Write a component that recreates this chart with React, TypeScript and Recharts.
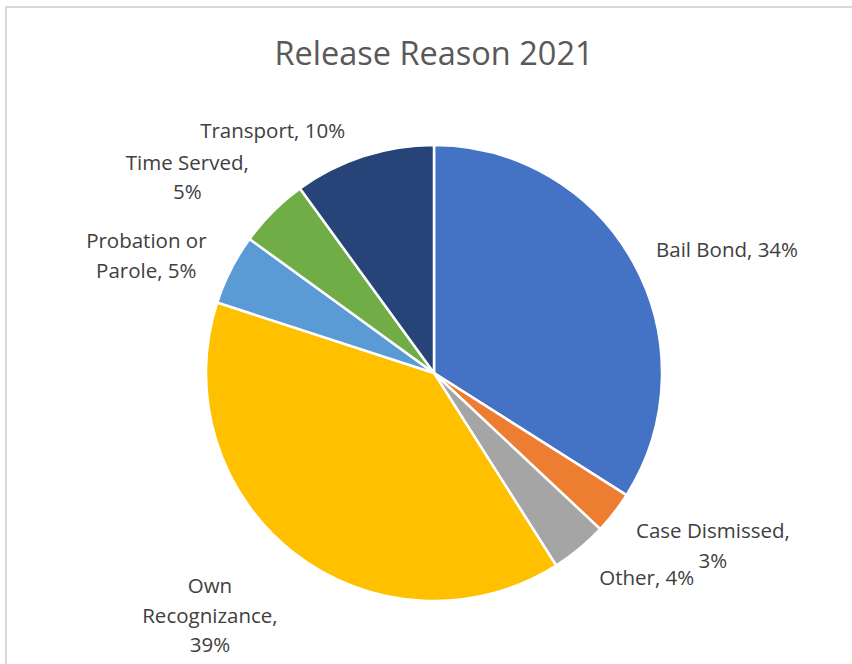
import { PieChart, Pie, Cell } from "recharts";

// release reasons, share of releases in 2021 (%)
const reasons = [
  "Bail Bond",
  "Case Dismissed",
  "Other",
  "Own Recognizance",
  "Probation or Parole",
  "Time Served",
  "Transport",
];
const shares = [34, 3, 4, 39, 5, 5, 10];

// how each data label wraps
const labelLines = [
  ["Bail Bond, 34%"],
  ["Case Dismissed,", "3%"],
  ["Other, 4%"],
  ["Own", "Recognizance,", "39%"],
  ["Probation or", "Parole, 5%"],
  ["Time Served,", "5%"],
  ["Transport, 10%"],
];

const COLORS = [
  "#4472c4",
  "#ed7d31",
  "#a5a5a5",
  "#ffc000",
  "#5b9bd5",
  "#70ad47",
  "#264478",
];

// best-fit nudges for the labels, px from the default anchor
const NUDGE: [number, number][] = [
  [17, 28],
  [30, -21],
  [12, -39],
  [-31, -7],
  [-7, 25],
  [-24, 26],
  [-64, 57],
];

const FONT = "'Open Sans', sans-serif";
const LINE_H = 29.5;
const RAD = Math.PI / 180;

const data = reasons.map((name, i) => ({ name, value: shares[i] }));

function renderLabel(props: any) {
  const { cx, cy, midAngle, outerRadius, index } = props;
  const r = outerRadius + 87;
  const x = cx + Math.cos(-midAngle * RAD) * r + NUDGE[index][0];
  const y = cy + Math.sin(-midAngle * RAD) * r + NUDGE[index][1];
  const lines = labelLines[index];
  const top = y - ((lines.length - 1) * LINE_H) / 2;
  return (
    <text
      key={`lbl-${index}`}
      x={x}
      y={top}
      textAnchor="middle"
      dominantBaseline="central"
      fill="#404040"
      fontSize={20.5}
      fontFamily={FONT}
    >
      {lines.map((l, k) => (
        <tspan key={k} x={x} y={top + k * LINE_H}>
          {l}
        </tspan>
      ))}
    </text>
  );
}

export default function App() {
  return (
    <div
      style={{
        position: "absolute",
        left: 0,
        top: 0,
        width: 852,
        height: 664,
        overflow: "hidden",
        background: "#fff",
      }}
    >
      <div
        style={{
          position: "absolute",
          left: 5,
          top: 6,
          width: 900,
          height: 700,
          border: "2px solid #d9d9d9",
        }}
      />
      <div style={{ position: "absolute", left: 0, top: 0 }}>
        <PieChart
          width={852}
          height={664}
          margin={{ top: 0, right: 0, bottom: 0, left: 0 }}
        >
          <text
            x={434}
            y={52}
            textAnchor="middle"
            dominantBaseline="central"
            fill="#595959"
            fontSize={32.5}
            fontFamily={FONT}
          >
            Release Reason 2021
          </text>
          <Pie
            data={data}
            dataKey="value"
            nameKey="name"
            cx={434}
            cy={373}
            outerRadius={228}
            startAngle={90}
            endAngle={-270}
            stroke="#ffffff"
            strokeWidth={2.5}
            label={renderLabel}
            labelLine={false}
            isAnimationActive={false}
          >
            {data.map((d, i) => (
              <Cell key={d.name} fill={COLORS[i]} />
            ))}
          </Pie>
        </PieChart>
      </div>
    </div>
  );
}
